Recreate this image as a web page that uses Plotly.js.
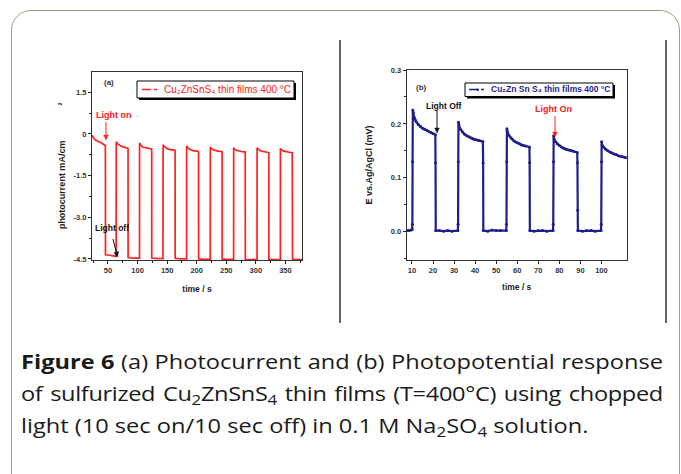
<!DOCTYPE html>
<html><head><meta charset="utf-8">
<script src="https://cdn.plot.ly/plotly-3.0.1.min.js"></script>
<style>
html,body{margin:0;padding:0;background:#fff;width:681px;height:474px;overflow:hidden;}
#frame{position:absolute;left:11px;top:10px;width:669px;height:485px;border:1.5px solid #a39c7c;border-radius:20px;box-sizing:border-box;}
#chart{position:absolute;left:0;top:0;width:681px;height:474px;}
#caption{position:absolute;left:21px;top:346px;width:544px;font-family:'Open Sans',sans-serif;font-size:20px;line-height:32px;color:#1a1a1a;transform-origin:0 0;transform:scaleX(1.18);}
#caption div{white-space:nowrap;height:32px;}
#caption .j{text-align:justify;text-align-last:justify;}
#caption .l2{letter-spacing:-0.3px;}
#caption sub{display:inline-block;font-size:0.72em;vertical-align:-0.28em;line-height:1;}
</style></head>
<body>
<div id="frame"></div>
<div id="chart"></div>
<div id="caption">
<div class="j"><b>Figure 6</b> (a) Photocurrent and (b) Photopotential response</div>
<div class="j l2">of sulfurized Cu<sub>2</sub>ZnSnS<sub>4</sub> thin films (T=400°C) using chopped</div>
<div>light (10 sec on/10 sec off) in 0.1 M Na<sub>2</sub>SO<sub>4</sub> solution.</div>
</div>
<script>
// ---- Data: (a) photocurrent ----
const timeA = [23,24,25,27,29,31,33,35,37,39,41,43,45,45.6,45.7,45.8,50,55,60,63.8,63.9,
64,66,68,70,72,74,76,78,80,82,83.8,83.9,84,88,93,98,103.3,
103.4,105,107,109,112,115,118,121,123.8,123.9,124,130,136,143,
143.1,143.2,145,148,151,154,157,160,163.4,163.5,163.6,170,177,182.9,
183,185,188,191,194,197,200,203,203.1,203.2,210,217,222.9,
223,225,228,231,234,237,240,242.8,242.9,243,250,256,262.4,
262.5,264,267,270,273,276,279,282,282.1,282.2,290,296,302,
302.1,304,307,310,313,316,319,321.9,322,329,335,341.4,
341.5,343,346,349,352,355,358,361.4,361.5,361.6,362,370,378];
const currentA = [-0.05,-0.1,-0.14,-0.19,-0.22,-0.25,-0.27,-0.29,-0.31,-0.33,-0.35,-0.37,-0.39,-0.42,-1.6,-4.35,-4.36,-4.37,-4.39,-4.41,-2.5,
-0.28,-0.35,-0.39,-0.42,-0.44,-0.46,-0.47,-0.49,-0.5,-0.51,-0.52,-0.62,-4.45,-4.46,-4.47,-4.47,-4.48,
-0.33,-0.4,-0.44,-0.47,-0.49,-0.51,-0.53,-0.54,-0.55,-0.65,-4.47,-4.48,-4.48,-4.49,
-1.55,-0.39,-0.45,-0.5,-0.54,-0.56,-0.57,-0.58,-0.59,-0.68,-4.48,-4.49,-4.49,-4.5,
-0.43,-0.5,-0.55,-0.58,-0.6,-0.61,-0.62,-0.63,-0.7,-4.5,-4.51,-4.52,-4.52,
-0.47,-0.53,-0.57,-0.6,-0.61,-0.62,-0.63,-0.64,-0.7,-4.52,-4.52,-4.52,-4.52,
-0.5,-0.55,-0.59,-0.61,-0.63,-0.64,-0.65,-0.65,-2.2,-4.52,-4.53,-4.53,-4.53,
-0.5,-0.55,-0.6,-0.62,-0.64,-0.65,-0.66,-0.67,-4.52,-4.53,-4.53,-4.53,
-0.52,-0.57,-0.61,-0.63,-0.65,-0.66,-0.67,-0.67,-0.8,-1.2,-4.53,-4.53,-4.53];

// ---- Data: (b) photopotential ----
const timeB = [7.5,8.5,9.5,10.1,10.2,10.3,10.4,10.6,11,11.5,12,13,14,15,16,17,18,19,20,21.1,21.2,21.3,
23,25,27,29,31.8,31.9,32,32.1,32.3,33,34,35,36,37,38,39,40,41,42,43.7,43.8,43.9,
46,48,50,52,54.8,54.9,55,55.1,55.3,56,57,58,59,60,61,62,63,64,65.8,65.9,66,
68,70,72,74,77,77.1,77.2,77.3,77.5,78,79,80,81,82,83,84,85,86,87,88.5,88.6,88.7,88.8,
91,93,95,97,99.8,99.9,100,100.1,100.3,101,102,103,104,105,106,107,108,109,110,111,112];
const potentialB = [0.002,0.002,0.003,0.004,0.014,0.13,0.226,0.221,0.213,0.208,0.204,0.199,0.195,0.192,0.19,0.188,0.186,0.184,0.182,0.18,0.128,0.002,
0.002,0.001,0.002,0.001,0.002,0.014,0.13,0.203,0.198,0.19,0.185,0.181,0.178,0.176,0.174,0.172,0.171,0.17,0.169,0.167,0.128,0.002,
0.001,0.003,0.002,0.002,0.002,0.014,0.13,0.191,0.186,0.179,0.174,0.17,0.167,0.165,0.163,0.161,0.16,0.159,0.157,0.128,0.002,
0.001,0.002,0.002,0.001,0.002,0.014,0.13,0.178,0.172,0.168,0.163,0.16,0.157,0.155,0.153,0.152,0.151,0.15,0.149,0.147,0.128,0.04,0.002,
0.001,0.002,0.002,0.001,0.002,0.014,0.13,0.167,0.161,0.157,0.153,0.15,0.148,0.146,0.144,0.143,0.141,0.14,0.139,0.138,0.137];

// ---- Ticks ----
const xTickA = [50,100,150,200,250,300,350];
const yTickA = [1.5,0,-1.5,-3.0,-4.5];
const yTickTextA = ['1.5','0','-1.5','-3.0','-4.5'];
const xTickB = [10,20,30,40,50,60,70,80,90,100];
const yTickB = [0,0.1,0.2,0.3];
const yTickTextB = ['0.0','0.1','0.2','0.3'];

const seriesName = 'Cu₂ZnSnS₄ thin films 400 °C';
const seriesNameB = 'Cu₂Zn Sn S₄ thin films 400 °C';
const redC = '#ff2020', navyC = '#1e1e8c';

const W=681,H=474;
const px=x=>x/W, py=y=>1-y/H;
const FONT='Liberation Sans, Arial, sans-serif';
const tickF={family:FONT,size:7.5,weight:'bold',color:'#333'};
const titleF={family:FONT,size:8.5,weight:'bold',color:'#222'};

const axBase={ticks:'outside',ticklen:3,tickwidth:1,tickcolor:'#222',linecolor:'#333',linewidth:1,mirror:true,
  showgrid:false,zeroline:false,tickfont:tickF,automargin:false};

const traces=[
 {x:timeA,y:currentA,xaxis:'x',yaxis:'y',type:'scatter',mode:'lines',name:seriesName,
  line:{color:redC,width:1.7},showlegend:false},
 {x:timeB,y:potentialB,xaxis:'x2',yaxis:'y2',type:'scatter',mode:'lines+markers',name:seriesNameB,
  line:{color:navyC,width:2.2},marker:{color:navyC,size:3},showlegend:false}
];

const rect=(x0,y0,x1,y1,fill,lc,lw)=>({type:'rect',xref:'paper',yref:'paper',x0:px(x0),x1:px(x1),y0:py(y1),y1:py(y0),
  fillcolor:fill,line:{color:lc,width:lw},layer:'above'});
const line=(x0,y0,x1,y1,c,w,dash)=>({type:'line',xref:'paper',yref:'paper',x0:px(x0),x1:px(x1),y0:py(y0),y1:py(y1),
  line:{color:c,width:w,dash:dash||'solid'},layer:'above'});
// arrow: shaft plus triangular head pointing at (x1,y1)
const arrow=(x0,y0,x1,y1,c)=>{
  const dx=x1-x0, dy=y1-y0, L=Math.hypot(dx,dy), ux=dx/L, uy=dy/L, hl=5, hw=2.3;
  const bx=x1-ux*hl, by=y1-uy*hl;
  const p=`M${px(x1)},${py(y1)} L${px(bx-uy*hw)},${py(by+ux*hw)} L${px(bx+uy*hw)},${py(by-ux*hw)} Z`;
  return [line(x0,y0,bx,by,c,1),
    {type:'path',xref:'paper',yref:'paper',path:p,fillcolor:c,line:{color:c,width:0.5},layer:'above'}];
};

const shapes=[
 line(340,40,340,323,'#333',1.5),
 line(666,40,666,323,'#333',1.5),
 // legend (a)
 rect(139,83,296,100,'#000','#000',0),
 rect(137,81,294,98,'#fff','#000',1),
 line(142,89.5,160,89.5,redC,1.3,'dashdot'),
 // legend (b)
 rect(467,85,615,98.5,'#000','#000',0),
 rect(465,83,613,96.5,'#fff','#000',1),
 line(469,89.5,487,89.5,navyC,1.3,'dashdot'),
 {type:'circle',xref:'paper',yref:'paper',x0:px(476.5),x1:px(479),y0:py(91),y1:py(88.5),fillcolor:navyC,line:{width:0},layer:'above'},
 ...arrow(106,122,106,140,redC),
 ...arrow(113,239,117.5,257,'#111'),
 ...arrow(437,111,437,133,'#111'),
 ...arrow(555,116,555,137,redC)
];

const ann=(x,y,text,opt)=>Object.assign({xref:'paper',yref:'paper',x:px(x),y:py(y),text:text,showarrow:false,
  xanchor:'center',yanchor:'middle',font:{family:FONT,size:8.5,color:'#111'}},opt||{});

const annotations=[
 ann(109,83,'(a)',{font:{family:FONT,size:8,weight:'bold',color:'#333'}}),
 ann(421,88,'(b)',{font:{family:FONT,size:8,weight:'bold',color:'#333'}}),
 ann(162,89.5,seriesName,{xanchor:'left',font:{family:FONT,size:10,color:redC}}),
 ann(489,89.5,seriesNameB,{xanchor:'left',font:{family:FONT,size:8.5,weight:'bold',color:navyC}}),
 ann(114,115,'Light on',{font:{family:FONT,size:9,weight:'bold',color:redC}}),
 ann(112,228,'Light off',{font:{family:FONT,size:8.5,weight:'bold',color:'#111'}}),
 ann(444,106.5,'Light Off',{font:{family:FONT,size:8.5,weight:'bold',color:'#111'}}),
 ann(553.5,109,'Light On',{font:{family:FONT,size:9,weight:'bold',color:redC}})
];

const gap='\u00A0'.repeat(14);
const layout={
 width:W,height:H,margin:{l:0,r:0,t:0,b:0},paper_bgcolor:'rgba(0,0,0,0)',plot_bgcolor:'rgba(0,0,0,0)',showlegend:false,
 xaxis:Object.assign({},axBase,{domain:[px(92),px(302)],range:[23,378],anchor:'y',tickmode:'array',tickvals:xTickA,
   minor:{ticks:'outside',ticklen:2,tickmode:'linear',tick0:25,dtick:50,tickcolor:'#222'},
   title:{text:'time / s',font:titleF,standoff:12}}),
 yaxis:Object.assign({},axBase,{domain:[py(260),py(71.7)],range:[-4.54,2.24],anchor:'x',tickmode:'array',tickvals:yTickA,ticktext:yTickTextA,
   minor:{ticks:'outside',ticklen:2,tickmode:'linear',tick0:0.75,dtick:1.5,tickcolor:'#222'},
   title:{text:'photocurrent mA/cm'+gap+'²',font:Object.assign({},titleF,{size:9}),standoff:6}}),
 xaxis2:Object.assign({},axBase,{domain:[px(406.7),px(626.7)],range:[7.5,112],anchor:'y2',tickmode:'array',tickvals:xTickB,
   title:{text:'time / s',font:titleF,standoff:10}}),
 yaxis2:Object.assign({},axBase,{domain:[py(260),py(70)],range:[-0.0525,0.3],anchor:'x2',tickmode:'array',tickvals:yTickB,ticktext:yTickTextB,
   minor:{ticks:'outside',ticklen:2,tickmode:'linear',tick0:0.05,dtick:0.1,tickcolor:'#222'},
   title:{text:'E vs.Ag/AgCl (mV)',font:Object.assign({},titleF,{size:9}),standoff:16}}),
 shapes:shapes,annotations:annotations
};
Plotly.newPlot('chart',traces,layout,{staticPlot:true,displayModeBar:false});
</script>
</body></html>
